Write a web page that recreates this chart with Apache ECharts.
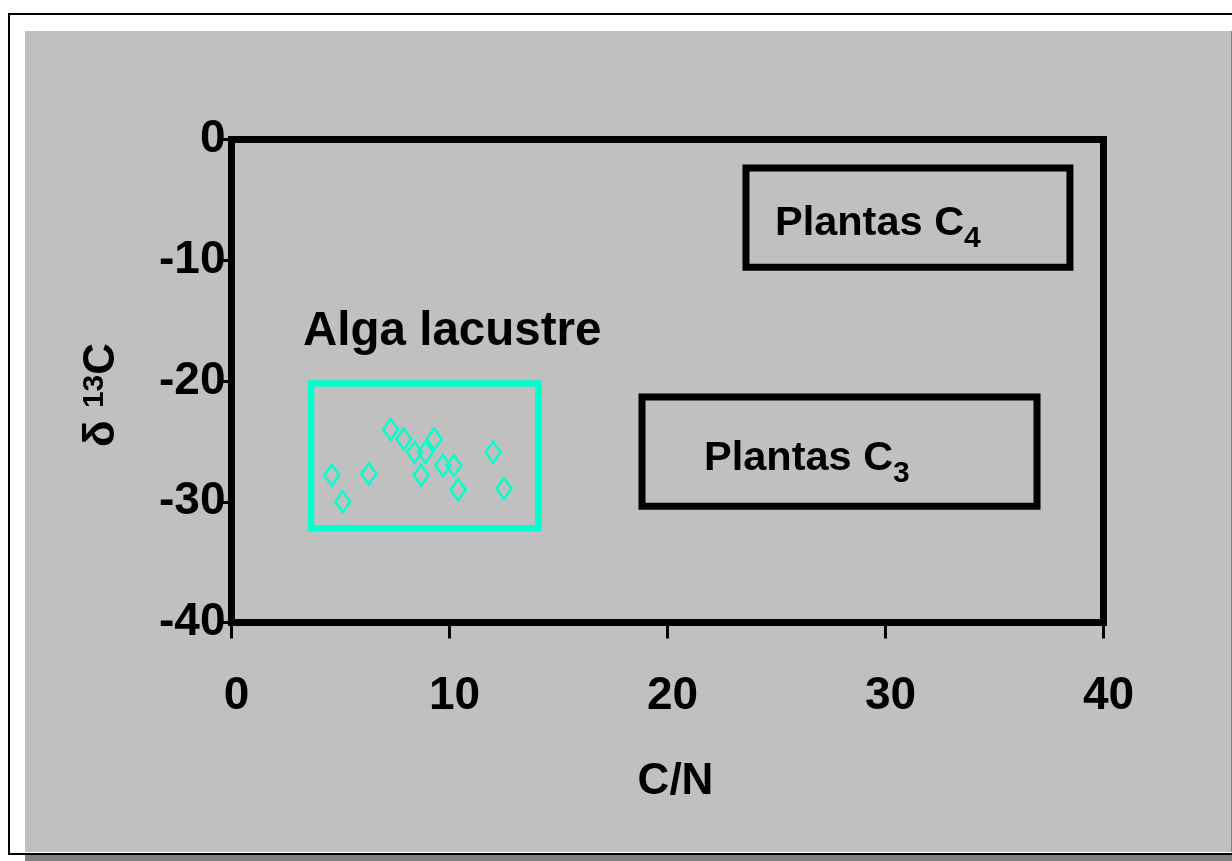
<!DOCTYPE html>
<html><head><meta charset="utf-8">
<script src="https://cdn.jsdelivr.net/npm/echarts@6/dist/echarts.min.js"></script>
<style>html,body{margin:0;padding:0;background:#fff}#c{width:1232px;height:861px}</style>
</head><body><div id="c"></div>
<script>
// ---- data ----
const cnValues   = [4.6, 5.1, 6.3, 7.3, 7.9, 8.4, 8.9, 9.3, 8.7, 9.7, 10.2, 10.4, 12.0, 12.5];
const d13cValues = [-27.8, -30.0, -27.7, -24.0, -24.8, -25.9, -25.9, -24.8, -27.8, -27.0, -27.0, -29.0, -25.9, -28.9];
const xTicks = [0, 10, 20, 30, 40];
const yTicks = [-40, -30, -20, -10, 0];
const boxNames      = ['Alga lacustre', 'Plantas C', 'Plantas C'];
const boxSubscripts = ['', '4', '3'];
const boxXMin   = [3.65, 23.6, 18.83];
const boxXMax   = [14.08, 38.46, 36.95];
const boxYTop   = [-20.2, -2.36, -21.32];
const boxYBottom= [-32.2, -10.57, -30.38];

// ---- styles ----
const FONT = "'Liberation Sans', Arial, sans-serif";
const CYAN = '#00ffcc';
const boxColors = [CYAN, '#000', '#000'];
const labelOffsets = [[-8, -75], [29, 26], [62, 32]];

const chart = echarts.init(document.getElementById('c'), null, {renderer: 'canvas'});
const scatterData = cnValues.map((v, i) => [v, d13cValues[i]]);
const boxData = boxNames.map((n, i) => [boxXMin[i], boxYTop[i], boxXMax[i], boxYBottom[i]]);

chart.setOption({
  backgroundColor: '#ffffff',
  animation: false,
  graphic: [
    {type: 'rect', z: -10, shape: {x: 9, y: 14, width: 1240, height: 840}, style: {fill: '#fff', stroke: '#000', lineWidth: 2}},
    {type: 'rect', z: -9, shape: {x: 25, y: 855, width: 1210, height: 10}, style: {fill: '#808080'}},
    {type: 'rect', z: -9, shape: {x: 25, y: 31, width: 1207, height: 821}, style: {fill: '#c0c0c0'}},
    {type: 'rect', z: -9, shape: {x: 1231, y: 31, width: 1, height: 821}, style: {fill: '#808080'}}
  ],
  grid: {
    left: 231.5, right: 128.5, top: 139.5, bottom: 238.5,
    show: true, borderColor: '#000', borderWidth: 7, backgroundColor: 'transparent'
  },
  xAxis: {
    type: 'value', min: xTicks[0], max: xTicks[xTicks.length - 1], interval: xTicks[1] - xTicks[0],
    name: 'C/N', nameLocation: 'middle', nameGap: 137,
    nameTextStyle: {fontFamily: FONT, fontWeight: 'bold', fontSize: 44, lineHeight: 44, color: '#000', padding: [0, 0, 0, 16]},
    axisLine: {show: true, onZero: false, lineStyle: {color: '#000', width: 7}},
    axisTick: {show: true, inside: false, length: 16, lineStyle: {color: '#000', width: 3}},
    axisLabel: {fontFamily: FONT, fontWeight: 'bold', fontSize: 46, lineHeight: 46, color: '#000', margin: 51, padding: [0, 0, 0, 10]},
    splitLine: {show: false}
  },
  yAxis: {
    type: 'value', min: yTicks[0], max: yTicks[yTicks.length - 1], interval: yTicks[1] - yTicks[0],
    name: '{d|δ }{s|13}{c|C}', nameLocation: 'middle', nameRotate: 90, nameGap: 108,
    nameTextStyle: {
      color: '#000', padding: [0, 28, 0, 0],
      rich: {
        d: {fontFamily: FONT, fontWeight: 'bold', fontSize: 44, lineHeight: 44, color: '#000'},
        s: {fontFamily: FONT, fontWeight: 'bold', fontSize: 30, lineHeight: 30, verticalAlign: 'top', color: '#000'},
        c: {fontFamily: FONT, fontWeight: 'bold', fontSize: 44, lineHeight: 44, color: '#000'}
      }
    },
    axisLine: {show: true, onZero: false, lineStyle: {color: '#000', width: 7}},
    axisTick: {show: true, inside: false, length: 10, lineStyle: {color: '#000', width: 3}},
    axisLabel: {fontFamily: FONT, fontWeight: 'bold', fontSize: 46, lineHeight: 46, color: '#000', margin: 6, padding: [5, 0, 0, 0]},
    splitLine: {show: false}
  },
  series: [
    {
      type: 'custom', coordinateSystem: 'cartesian2d', clip: false, z: 3,
      data: boxData,
      renderItem: function (params, api) {
        const i = params.dataIndex;
        const p0 = api.coord([api.value(0), api.value(1)]);
        const p1 = api.coord([api.value(2), api.value(3)]);
        const x = p0[0], y = p0[1], w = p1[0] - p0[0], h = p1[1] - p0[1];
        const off = labelOffsets[i];
        const sub = boxSubscripts[i];
        const text = sub ? '{m|' + boxNames[i] + '}{s|' + sub + '}' : '{a|' + boxNames[i] + '}';
        return {
          type: 'group',
          children: [
            {type: 'rect', shape: {x: x, y: y, width: w, height: h},
             style: {fill: 'none', stroke: boxColors[i], lineWidth: i === 0 ? 6.5 : 7}},
            {type: 'text', x: x + off[0], y: y + off[1],
             style: {
               text: text, x: 0, y: 0, align: 'left', verticalAlign: 'top', fill: '#000',
               rich: {
                 a: {fontFamily: FONT, fontWeight: 'bold', fontSize: 47.5, lineHeight: 47, fill: '#000'},
                 m: {fontFamily: FONT, fontWeight: 'bold', fontSize: 41.5, lineHeight: 60, fill: '#000'},
                 s: {fontFamily: FONT, fontWeight: 'bold', fontSize: 30, lineHeight: 35, verticalAlign: 'bottom', fill: '#000'}
               }
             }}
          ]
        };
      }
    },
    {
      type: 'scatter', z: 4,
      data: scatterData,
      symbol: 'diamond', symbolSize: [15, 21],
      itemStyle: {color: 'transparent', borderColor: CYAN, borderWidth: 2.5, opacity: 1}
    }
  ]
});
</script></body></html>
